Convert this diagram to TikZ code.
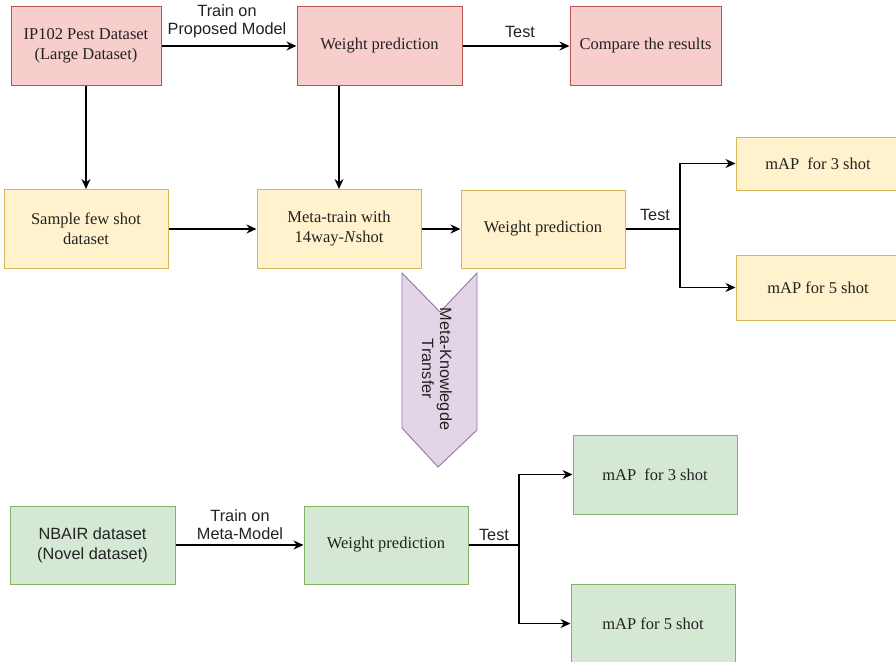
\documentclass[tikz,border=0pt]{standalone}
\usepackage{fontspec}
\setmainfont{Liberation Serif}
\setsansfont{Liberation Sans}
\usetikzlibrary{arrows.meta}
\definecolor{pinkfill}{HTML}{F8CECC}
\definecolor{pinkline}{HTML}{B85450}
\definecolor{yelfill}{HTML}{FFF2CC}
\definecolor{yelline}{HTML}{D6B656}
\definecolor{grnfill}{HTML}{D5E8D4}
\definecolor{grnline}{HTML}{82B366}
\definecolor{purfill}{HTML}{E1D5E7}
\definecolor{purline}{HTML}{9673A6}
\definecolor{ink}{HTML}{222222}
\begin{document}
\begin{tikzpicture}[x=1pt,y=-1pt,
  box/.style={draw, line width=1pt, rectangle, align=center, text=ink,
    inner sep=2pt, font=\fontsize{16.5}{20}\selectfont},
  pinkbox/.style={box, fill=pinkfill, draw=pinkline},
  yelbox/.style={box, fill=yelfill, draw=yelline},
  grnbox/.style={box, fill=grnfill, draw=grnline},
  flow/.style={draw=black, line width=1.3pt, -{Stealth[length=10pt,width=9pt]}},
  wire/.style={draw=black, line width=1.3pt},
  lbl/.style={font=\sffamily\fontsize{16.3}{18}\selectfont, text=ink, align=center, inner sep=1pt}]
\useasboundingbox (0,0) rectangle (896,661);
\fill[white] (0,0) rectangle (896,661);

% top row
\node[pinkbox, minimum width=150pt, minimum height=78pt] (ip) at (86,46) {IP102 Pest Dataset\\(Large Dataset)};
\node[pinkbox, minimum width=165pt, minimum height=78pt] (wpt) at (379.5,46) {Weight prediction};
\node[pinkbox, minimum width=151pt, minimum height=78pt] (cmp) at (645.5,46) {Compare the results};

% middle row
\node[yelbox, minimum width=164pt, minimum height=79pt] (smp) at (86,229) {Sample few shot\\dataset};
\node[yelbox, minimum width=164pt, minimum height=79pt] (meta) at (339,229) {Meta-train with\\14way-\textit{N}shot};
\node[yelbox, minimum width=164pt, minimum height=78pt] (wpy) at (543,229) {Weight prediction};
\node[yelbox, minimum width=164pt, minimum height=53pt] (y3) at (818,163.5) {mAP\ \ for 3 shot};
\node[yelbox, minimum width=164pt, minimum height=65pt] (y5) at (818,287.5) {mAP for 5 shot};

% bottom row
\node[grnbox, minimum width=165pt, minimum height=78pt, font=\sffamily\fontsize{16.3}{20}\selectfont] (nb) at (92.5,545) {NBAIR dataset\\(Novel dataset)};
\node[grnbox, minimum width=164pt, minimum height=78pt] (wpg) at (386,545) {Weight prediction};
\node[grnbox, minimum width=164pt, minimum height=79pt] (g3) at (655,474.5) {mAP\ \ for 3 shot};
\node[grnbox, minimum width=164pt, minimum height=79pt] (g5) at (653,623.5) {mAP for 5 shot};

% connectors
\draw[flow] (ip) -- (wpt);
\draw[flow] (wpt) -- (cmp);
\draw[flow] (ip) -- (smp);
\draw[flow] (wpt.south -| meta.north) -- (meta.north);
\draw[flow] (smp) -- (meta);
\draw[flow] (meta) -- (wpy);
\coordinate (ys) at (680,229);
\draw[wire] (wpy.east) -- (ys);
\draw[flow] (ys) |- (y3.west);
\draw[flow] (ys) |- (y5.west);
\draw[flow] (nb) -- (wpg);
\coordinate (gs) at (519,545);
\draw[wire] (wpg.east) -- (gs);
\draw[flow] (gs) |- (g3.west);
\draw[flow] (gs) |- (g5.west);

% connector labels
\node[lbl] (l1) at (227,21) {Train on\\Proposed Model};
\node[lbl] (l2) at (520,32) {Test};
\node[lbl] (l3) at (655,215) {Test};
\node[lbl] (l4) at (240,525) {Train on\\Meta-Model};
\node[lbl] (l5) at (494,535) {Test};

% transfer chevron
\draw[fill=purfill, draw=purline, line width=0.9pt]
  (402,273) -- (440,312) -- (477,273) -- (477,430) -- (438,467) -- (402,428) -- cycle;
\node[lbl, rotate=-90] (mk) at (437,369) {Meta-Knowlegde\\Transfer};
\end{tikzpicture}
\end{document}
